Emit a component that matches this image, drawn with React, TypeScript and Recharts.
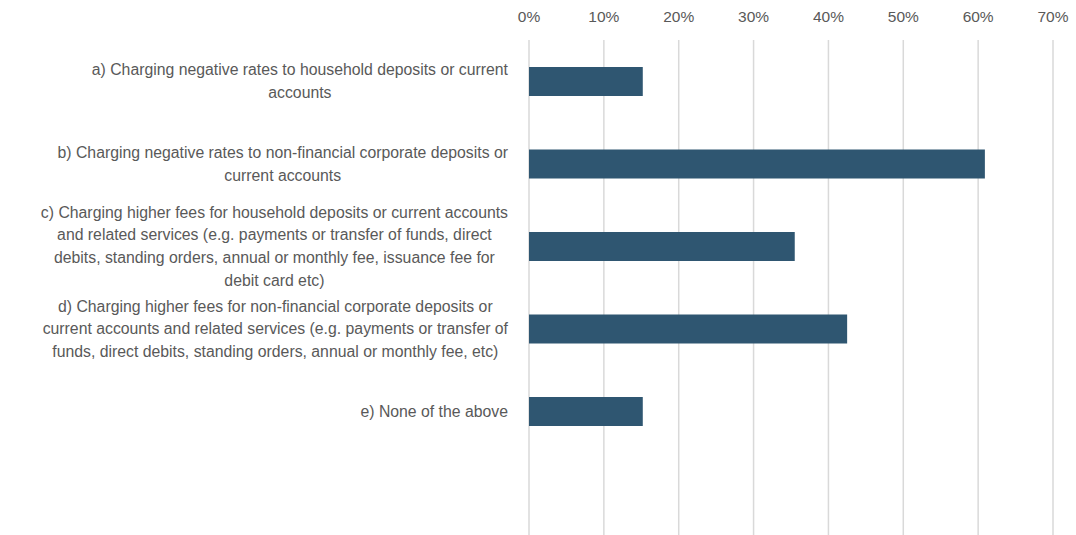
import React from "react";
import { Bar, BarChart, CartesianGrid, XAxis, YAxis } from "recharts";

// survey answer options, pre-wrapped as in the source chart
const categories: string[][] = [
  ["a) Charging negative rates to household deposits or current", "accounts"],
  ["b) Charging negative rates to non-financial corporate deposits or", "current accounts"],
  [
    "c) Charging higher fees for household deposits or current accounts",
    "and related services (e.g. payments or transfer of funds, direct",
    "debits, standing orders, annual or monthly fee, issuance fee for",
    "debit card etc)",
  ],
  [
    "d) Charging higher fees for non-financial corporate deposits or",
    "current accounts and related services (e.g. payments or transfer of",
    "funds, direct debits, standing orders, annual or monthly fee, etc)",
  ],
  ["e) None of the above"],
  [],
];

const shares: (number | null)[] = [0.152, 0.609, 0.355, 0.425, 0.152, null];

const xTicks = [0, 0.1, 0.2, 0.3, 0.4, 0.5, 0.6, 0.7];

const FONT = "'Liberation Sans', Arial, sans-serif";
const FONT_SIZE = 15.8;
const TEXT = "#595959";

if (typeof document !== "undefined") document.body.style.margin = "0";

let ctx: CanvasRenderingContext2D | null = null;
function measure(s: string): number {
  if (!ctx) ctx = document.createElement("canvas").getContext("2d");
  if (!ctx) return s.length * 7;
  ctx.font = `${FONT_SIZE}px ${FONT}`;
  return ctx.measureText(s).width;
}

const data = categories.map((lines, i) => ({
  name: String(i),
  value: shares[i],
}));

function CategoryTick(props: { x?: number; y?: number; payload?: { value: string } }) {
  const { x = 0, y = 0, payload } = props;
  if (!payload) return null;
  const lines = categories[Number(payload.value)] ?? [];
  if (lines.length === 0) return null;
  const lineH = 22.7;
  const maxW = Math.max(...lines.map(measure));
  const right = Number(x) - 13;
  const cx = right - maxW / 2;
  const top = Number(y) - ((lines.length - 1) * lineH) / 2;
  return (
    <g>
      {lines.map((l, i) => (
        <text
          key={i}
          x={cx}
          y={top + i * lineH}
          textAnchor="middle"
          dominantBaseline="central"
          fill={TEXT}
          fontSize={FONT_SIZE}
          fontFamily={FONT}
        >
          {l}
        </text>
      ))}
    </g>
  );
}

export default function App() {
  return (
    <div style={{ width: 1076, height: 535, background: "#fff" }}>
      <BarChart
        width={1076}
        height={535}
        data={data}
        layout="vertical"
        margin={{ top: 10, right: 23, bottom: 0, left: 0 }}
        barCategoryGap={0}
      >
        <CartesianGrid horizontal={false} stroke="#D9D9D9" strokeWidth={1.5} />
        <XAxis
          type="number"
          orientation="top"
          domain={[0, 0.7]}
          ticks={xTicks}
          interval={0}
          height={30}
          axisLine={false}
          tickLine={false}
          tickFormatter={(v: number) => `${Math.round(v * 100)}%`}
          tick={{ fill: TEXT, fontSize: 15.5, fontFamily: FONT, dy: -10 }}
        />
        <YAxis
          type="category"
          dataKey="name"
          width={529}
          axisLine={false}
          tickLine={false}
          interval={0}
          tick={CategoryTick as any}
        />
        <Bar dataKey="value" fill="#2F5671" barSize={29} isAnimationActive={false} />
      </BarChart>
    </div>
  );
}
